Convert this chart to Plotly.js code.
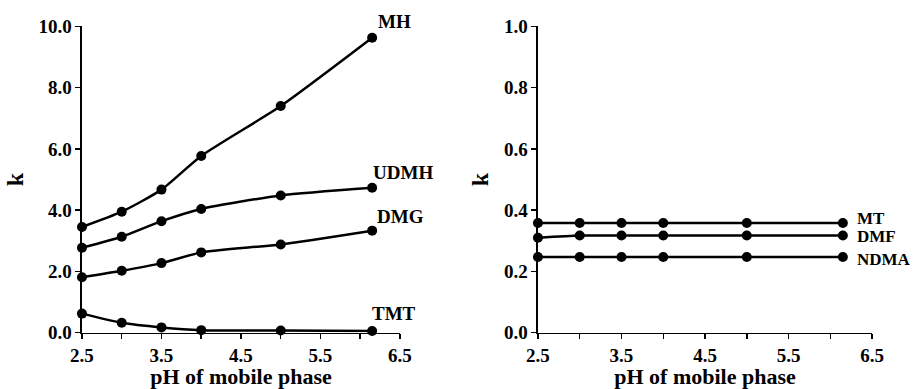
<!DOCTYPE html>
<html>
<head>
<meta charset="utf-8">
<script src="https://cdn.plot.ly/plotly-3.0.1.min.js"></script>
<style>html,body{margin:0;padding:0;background:#fff;}#chart{width:918px;height:389px;}</style>
</head>
<body>
<div id="chart"></div>
<script>
const pH = [2.5, 3.0, 3.5, 4.0, 5.0, 6.15];
const MH = [3.45, 3.95, 4.67, 5.77, 7.40, 9.63];
const UDMH = [2.77, 3.13, 3.64, 4.04, 4.48, 4.73];
const DMG = [1.81, 2.02, 2.27, 2.62, 2.88, 3.33];
const TMT = [0.62, 0.32, 0.17, 0.08, 0.07, 0.05];
const MT = [0.358, 0.358, 0.358, 0.358, 0.358, 0.358];
const DMF = [0.31, 0.317, 0.317, 0.317, 0.317, 0.317];
const NDMA = [0.247, 0.247, 0.247, 0.247, 0.247, 0.247];
const leftNames = ['MH', 'UDMH', 'DMG', 'TMT'];
const rightNames = ['MT', 'DMF', 'NDMA'];
const leftTicks = ['0.0', '2.0', '4.0', '6.0', '8.0', '10.0'];
const rightTicks = ['0.0', '0.2', '0.4', '0.6', '0.8', '1.0'];

const FONT = 'Liberation Serif';
function tr(y, xa, ya) {
  return {x: pH, y: y, xaxis: xa, yaxis: ya, type: 'scatter', mode: 'lines+markers',
    line: {color: '#000', width: 2.5, shape: 'spline', smoothing: 0.6},
    marker: {color: '#000', size: 10}, cliponaxis: false, showlegend: false, hoverinfo: 'skip'};
}
const data = [tr(MH,'x','y'), tr(UDMH,'x','y'), tr(DMG,'x','y'), tr(TMT,'x','y'),
              tr(MT,'x2','y2'), tr(DMF,'x2','y2'), tr(NDMA,'x2','y2')];

const tickFont = {family: FONT, size: 19, color: '#000', weight: 'bold'};
const titleFont = {family: FONT, size: 22, color: '#000', weight: 'bold'};
function xax(dom, anchor) {
  return {domain: dom, anchor: anchor, range: [2.5, 6.5], tick0: 2.5, dtick: 1, tickformat: '.1f',
    ticks: 'outside', ticklen: 5, tickwidth: 1.5, tickcolor: '#000',
    minor: {dtick: 0.5, tick0: 2.5, ticks: 'outside', ticklen: 5, tickwidth: 1.5, tickcolor: '#000'},
    showline: true, linecolor: '#000', linewidth: 1.5, showgrid: false, zeroline: false,
    tickfont: tickFont, title: {text: 'pH of mobile phase', font: titleFont, standoff: 0}};
}
function yax(range, labels, anchor) {
  const vals = labels.map(Number);
  return {domain: [0.145, 0.932], range: range, tickvals: vals, ticktext: labels, anchor: anchor,
    ticks: 'outside', ticklen: 5, tickwidth: 1.5, tickcolor: '#000',
    showline: true, linecolor: '#000', linewidth: 1.5, showgrid: false, zeroline: false,
    tickfont: tickFont, title: {text: 'k', font: {family: FONT, size: 24, color: '#000', weight: 'bold'}, standoff: 8}};
}
const annFont = {family: FONT, size: 19, color: '#000', weight: 'bold'};
function lab(text, x, y, xref, yref, sz) {
  const f = Object.assign({}, annFont);
  if (sz) f.size = sz;
  return {text: text, x: x, y: y, xref: xref, yref: yref, showarrow: false, font: f, xanchor: 'left', yanchor: 'middle'};
}
const layout = {
  width: 918, height: 389, margin: {l: 0, r: 0, t: 0, b: 0},
  paper_bgcolor: '#fff', plot_bgcolor: '#fff',
  xaxis: xax([0.0893, 0.4357], 'y'),
  yaxis: yax([0, 10], leftTicks, 'x'),
  xaxis2: xax([0.586, 0.950], 'y2'),
  yaxis2: yax([0, 1], rightTicks, 'x2'),
  annotations: [
    lab(leftNames[0], 6.2, 0.946, 'x', 'paper'),
    lab(leftNames[1], 6.13, 5.23, 'x', 'y'),
    lab(leftNames[2], 6.18, 3.79, 'x', 'y'),
    lab(leftNames[3], 6.12, 0.62, 'x', 'y'),
    lab(rightNames[0], 6.29, 0.374, 'x2', 'y2', 17),
    lab(rightNames[1], 6.29, 0.315, 'x2', 'y2', 17),
    lab(rightNames[2], 6.29, 0.238, 'x2', 'y2', 17)
  ]
};
Plotly.newPlot('chart', data, layout, {staticPlot: true, displayModeBar: false});
</script>
</body>
</html>
